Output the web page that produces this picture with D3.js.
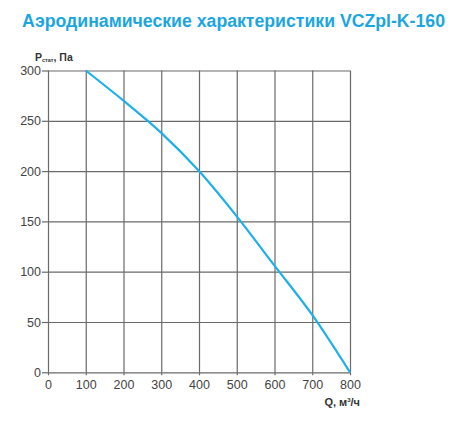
<!DOCTYPE html>
<html><head><meta charset="utf-8">
<script src="https://cdn.jsdelivr.net/npm/d3@7"></script>
<style>body{margin:0;background:#fff}svg{display:block}text{font-family:"Liberation Sans",Arial,sans-serif}</style>
</head><body>
<svg id="c" width="450" height="425"></svg>
<script>
const title = "Аэродинамические характеристики VCZpl-K-160";
const xTicks = [0,100,200,300,400,500,600,700,800];
const yTicks = [0,50,100,150,200,250,300];
const flowQ = [100,200,300,400,500,600,700,800];
const pressure = [300,270,238,200,155,106,57,0];

const svg = d3.select("#c");
const x = d3.scaleLinear().domain([0,800]).range([48,350]);
const y = d3.scaleLinear().domain([0,300]).range([372.3,70.5]);

svg.append("text").attr("x",22).attr("y",27).attr("fill","#1ba6e0")
  .attr("font-weight","bold").attr("font-size",17.5)
  .attr("textLength",423).attr("lengthAdjust","spacingAndGlyphs").text(title);

const gx = svg.append("g").attr("transform","translate(0,372.3)")
  .call(d3.axisBottom(x).tickValues(xTicks).tickSizeInner(-(372.3-70.5)).tickSizeOuter(0).tickPadding(8));
const gy = svg.append("g").attr("transform","translate(48,0)")
  .call(d3.axisLeft(y).tickValues(yTicks).tickSizeInner(-(350-48)).tickSizeOuter(0).tickPadding(7));
[gx,gy].forEach(g=>{
  g.select(".domain").remove();
  g.selectAll(".tick line").attr("stroke","#6a6a6a").attr("stroke-width",1.2);
  g.selectAll(".tick text").attr("fill","#444").attr("font-size",12.5).attr("font-family","Liberation Sans, Arial, sans-serif");
});
gx.selectAll(".tick").append("line").attr("y1",0).attr("y2",3).attr("stroke","#6a6a6a").attr("stroke-width",1.2);
gy.selectAll(".tick").append("line").attr("x1",0).attr("x2",-6).attr("stroke","#6a6a6a").attr("stroke-width",1.2);
gx.selectAll(".tick text").attr("dy","0.71em").attr("y",8);

const line = d3.line().x((d,i)=>x(flowQ[i])).y(d=>y(d)).curve(d3.curveMonotoneX);
svg.append("path").datum(pressure).attr("d",line).attr("fill","none")
  .attr("stroke","#1cb0ea").attr("stroke-width",2.2);

const yl = svg.append("text").attr("x",35).attr("y",60.5).attr("fill","#333").attr("font-weight","bold").attr("font-size",10.5);
yl.append("tspan").text("P");
yl.append("tspan").attr("font-size",5.5).attr("dy",1).text("стат");
yl.append("tspan").attr("dy",-1).text(", Па");

const xl = svg.append("text").attr("x",360).attr("y",406).attr("text-anchor","end").attr("fill","#333").attr("font-weight","bold").attr("font-size",11);
xl.append("tspan").text("Q, м");
xl.append("tspan").attr("font-size",6).attr("dy",-4).text("3");
xl.append("tspan").attr("dy",4).text("/ч");
</script>
</body></html>
